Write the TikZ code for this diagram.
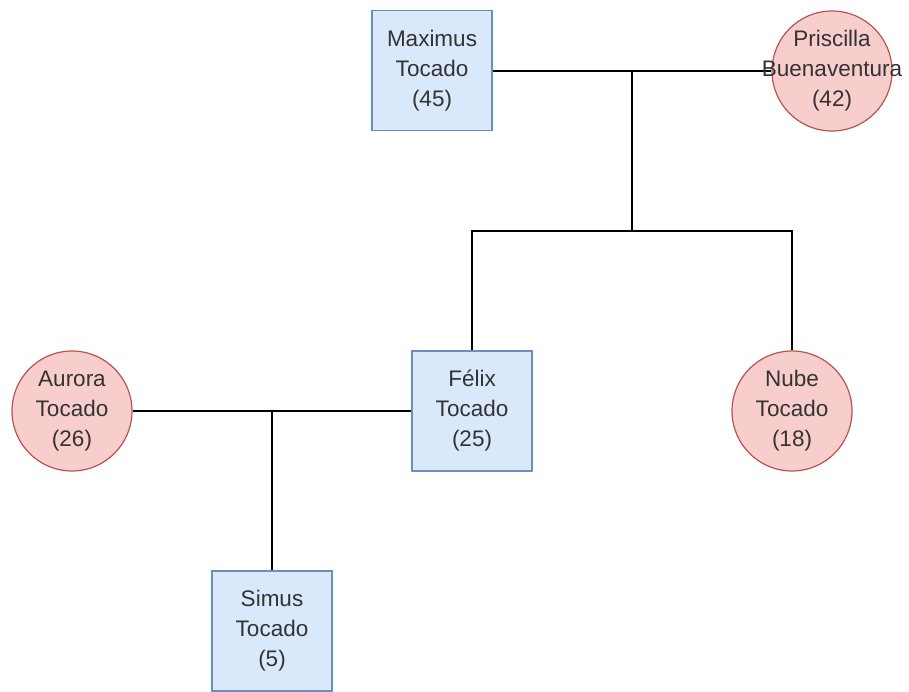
\documentclass[tikz,border=0pt]{standalone}
\usepackage{fontspec}
\setmainfont{Liberation Sans}
\usetikzlibrary{positioning}
\definecolor{boyfill}{HTML}{DAE8FC}
\definecolor{boydraw}{HTML}{6C8EBF}
\definecolor{girlfill}{HTML}{F8CECC}
\definecolor{girldraw}{HTML}{B85450}
\definecolor{nametext}{HTML}{333333}
\begin{document}
\begin{tikzpicture}[x=1pt,y=-1pt,line width=1.5pt,
    person/.style={inner sep=0pt,align=center,text=nametext,
      font=\fontsize{22.5}{30}\selectfont},
    boy/.style={person,draw=boydraw,fill=boyfill,line width=1.2pt,
      minimum width=120pt,minimum height=120pt},
    girl/.style={person,circle,draw=girldraw,fill=girlfill,line width=1.2pt,
      minimum size=120pt}]
  \clip (0,0) rectangle (909,691);
  \useasboundingbox (0,0) rectangle (909,691);

  % parents
  \node[boy]  (maximus)   at (432,70.5) {Maximus\\Tocado\\(45)};
  \node[girl] (priscilla) at (832,71)   {};
  \coordinate (couple1) at (632,71);
  \coordinate (split)   at (632,231);

  % children
  \node[boy]  (felix) at (472,411) {F\'elix\\Tocado\\(25)};
  \node[girl] (nube)  at (792,411) {Nube\\Tocado\\(18)};

  % second couple
  \node[girl] (aurora) at (72,411) {Aurora\\Tocado\\(26)};
  \coordinate (couple2) at (272,411);
  \node[boy]  (simus)  at (272,631) {Simus\\Tocado\\(5)};

  \draw (maximus.east |- couple1) -- (priscilla.west);
  \draw (couple1) -- (split);
  \draw (felix.north) |- (split) -| (nube.north);
  \draw (aurora) -- (felix);
  \draw (couple2) -- (simus);

  % name drawn over the line, as in the original
  \node[person] at (priscilla) {Priscilla\\Buenaventura\\(42)};
\end{tikzpicture}
\end{document}
